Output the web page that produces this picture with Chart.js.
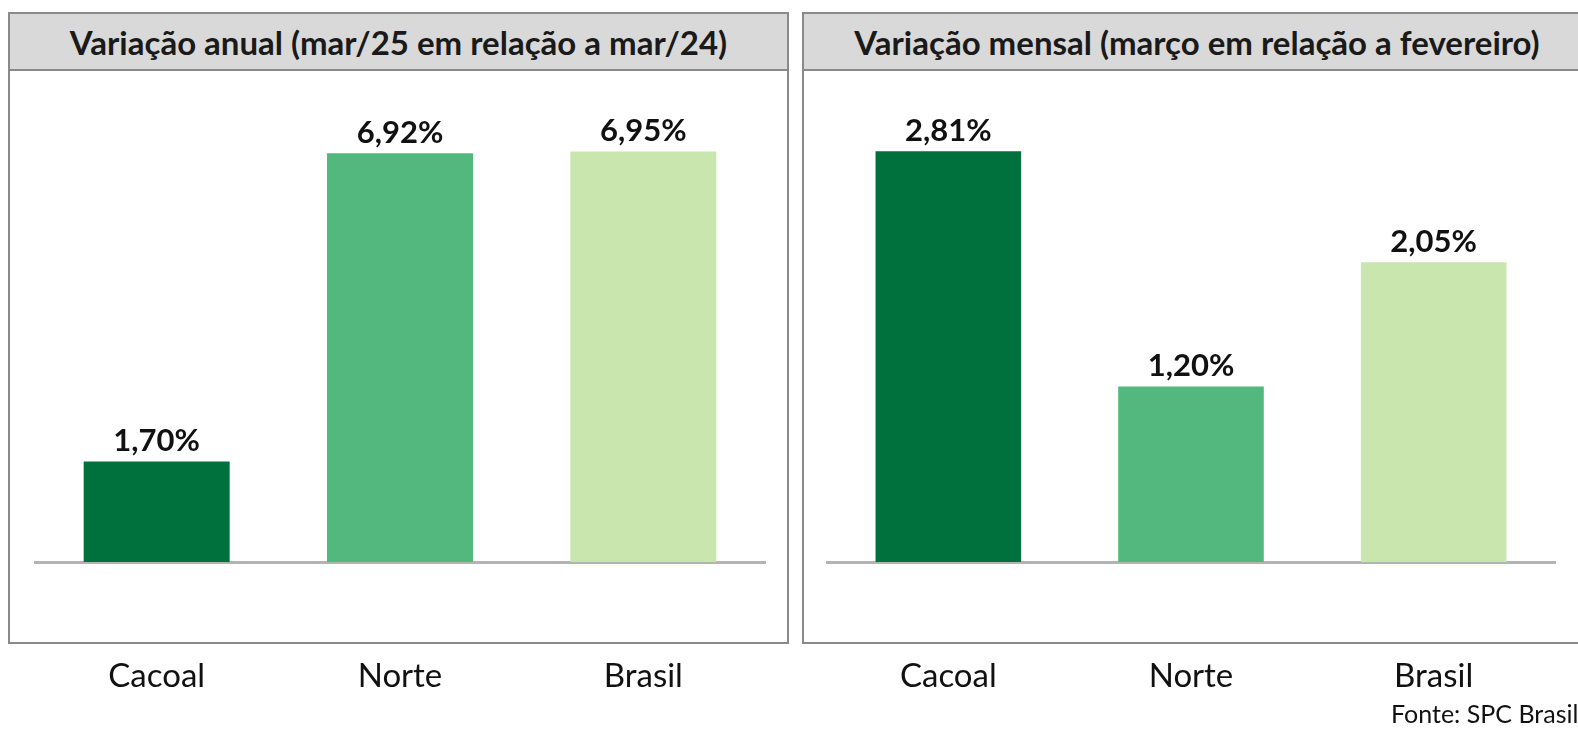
<!DOCTYPE html>
<html lang="pt">

<head>
  <meta charset="UTF-8">
  <title>Variação SPC Brasil</title>
  <script src="https://cdn.jsdelivr.net/npm/chart.js"></script>
  <style>
    body { margin: 0; width: 1578px; height: 732px; background: #fff; overflow: hidden; position: relative; font-family: Lato, 'Open Sans', sans-serif; }
    .panel { position: absolute; top: 12px; height: 632px; border: 2px solid #8a8a8a; box-sizing: border-box; pointer-events: none; }
    .head { position: absolute; top: 12px; height: 59px; background: #d9d9d9; border: 2px solid #8a8a8a; box-sizing: border-box;
            font-weight: bold; font-size: 33px; color: #1a1a1a; display: flex; align-items: center; justify-content: center; white-space: nowrap; }
    canvas { position: absolute; }
    #fonte { position: absolute; left: 1391px; top: 698px; font-size: 25px; color: #111; white-space: nowrap; }
  </style>
</head>

<body>
  <div class="head" style="left:8px; width:781px;">Variação anual (mar/25 em relação a mar/24)</div>
  <div class="head" style="left:802px; width:790px;">Variação mensal (março em relação a fevereiro)</div>

  <div style="position:absolute; left:0; top:70px; width:795px; height:662px;"><canvas id="anualChart"></canvas></div>
  <div style="position:absolute; left:795px; top:70px; width:783px; height:662px;"><canvas id="mensalChart"></canvas></div>

  <div class="panel" style="left:8px; width:781px;"></div>
  <div class="panel" style="left:802px; width:790px;"></div>
  <div id="fonte">Fonte: SPC Brasil</div>

  <script>
    const categories = ['Cacoal', 'Norte', 'Brasil']
    const anualValues = [1.70, 6.92, 6.95]
    const mensalValues = [2.81, 1.20, 2.05]
    const barColors = ['#00703c', '#52b87e', '#c8e6ae']

    // value labels over each bar, pt-BR decimal comma
    const valueLabels = {
      id: 'valueLabels',
      afterDatasetsDraw(chart) {
        const ctx = chart.ctx
        const meta = chart.getDatasetMeta(0)
        const values = chart.data.datasets[0].data
        ctx.save()
        ctx.font = 'bold 31px Lato, "Open Sans", sans-serif'
        ctx.fillStyle = '#111'
        ctx.textAlign = 'center'
        ctx.textBaseline = 'bottom'
        meta.data.forEach((bar, i) => {
          ctx.fillText(values[i].toFixed(2).replace('.', ',') + '%', bar.x, bar.y - 5)
        })
        ctx.restore()
      }
    }

    const makeChart = (id, values, yMax, padLeft, padRight) => {
      new Chart(document.getElementById(id), {
        type: 'bar',
        data: {
          labels: categories,
          datasets: [{
            data: values,
            backgroundColor: barColors,
            categoryPercentage: 1,
            barPercentage: 0.6
          }]
        },
        options: {
          responsive: true,
          maintainAspectRatio: false,
          animation: false,
          layout: { padding: { top: 30, bottom: 20, left: padLeft, right: padRight } },
          plugins: { legend: { display: false }, tooltip: { enabled: false } },
          scales: {
            x: {
              grid: { display: false, drawTicks: false },
              border: { display: true, color: '#b4b4b4', width: 3 },
              ticks: { color: '#111', padding: 95, font: { size: 33, family: 'Lato, "Open Sans", sans-serif' } },
              afterFit(scale) { scale.height = 150 }
            },
            y: { display: false, min: 0, max: yMax }
          }
        },
        plugins: [valueLabels]
      })
    }

    makeChart('anualChart', anualValues, 7.82, 35, 30)
    makeChart('mensalChart', mensalValues, 3.16, 32, 23)
  </script>
</body>

</html>
